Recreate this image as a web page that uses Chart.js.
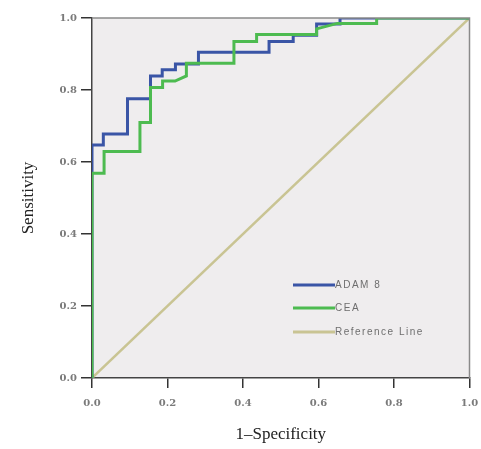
<!DOCTYPE html>
<html>
<head>
<meta charset="utf-8">
<script src="https://cdn.jsdelivr.net/npm/chart.js@4/dist/chart.umd.min.js"></script>
<style>
  body { margin: 0; background: #fff; }
  #roc { display: block; }
</style>
</head>
<body>
<canvas id="roc" width="481" height="449"></canvas>
<script>
// ROC curve data (1 - specificity, sensitivity)
const adamX = [0, 0, 0.03, 0.03, 0.094, 0.094, 0.155, 0.155, 0.186, 0.186, 0.221, 0.221, 0.282, 0.282, 0.469, 0.469, 0.533, 0.533, 0.595, 0.595, 0.657, 0.657, 1.0];
const adamY = [0, 0.647, 0.647, 0.678, 0.678, 0.776, 0.776, 0.839, 0.839, 0.856, 0.856, 0.872, 0.872, 0.905, 0.905, 0.935, 0.935, 0.952, 0.952, 0.983, 0.983, 1.0, 1.0];

const ceaX = [0, 0, 0.032, 0.032, 0.127, 0.127, 0.155, 0.155, 0.187, 0.187, 0.22, 0.25, 0.25, 0.376, 0.376, 0.436, 0.436, 0.595, 0.595, 0.65, 0.754, 0.754, 1.0];
const ceaY = [0, 0.569, 0.569, 0.629, 0.629, 0.71, 0.71, 0.807, 0.807, 0.825, 0.825, 0.839, 0.874, 0.874, 0.935, 0.935, 0.954, 0.954, 0.97, 0.985, 0.985, 1.0, 1.0];

const refX = [0, 1];
const refY = [0, 1];

const seriesNames = ["ADAM 8", "CEA", "Reference Line"];
const xTicks = [0, 0.2, 0.4, 0.6, 0.8, 1.0];
const yTicks = [0, 0.2, 0.4, 0.6, 0.8, 1.0];

function toPoints(xs, ys) {
    return xs.map((x, i) => ({ x: x, y: ys[i] }));
}

// plot background + top/right frame
const fondo = {
    id: "fondo",
    beforeDraw(chart) {
        const { ctx, chartArea: a } = chart;
        ctx.save();
        ctx.fillStyle = "#efedee";
        ctx.fillRect(a.left, a.top, a.right - a.left, a.bottom - a.top);
        ctx.restore();
    },
    afterDraw(chart) {
        const { ctx, chartArea: a } = chart;
        ctx.save();
        ctx.strokeStyle = "#8a8a8a";
        ctx.lineWidth = 1.5;
        ctx.beginPath();
        ctx.moveTo(a.left, a.top);
        ctx.lineTo(a.right, a.top);
        ctx.lineTo(a.right, a.bottom);
        ctx.stroke();
        ctx.restore();
    }
};

// legend drawn inside the plot like the SPSS output
const leyenda = {
    id: "leyenda",
    afterDatasetsDraw(chart) {
        const { ctx } = chart;
        const x0 = 293, x1 = 335;
        const ys = [285, 308, 332];
        ctx.save();
        ctx.font = "10px 'Liberation Sans'";
        ctx.letterSpacing = "1.5px";
        ctx.textBaseline = "middle";
        ctx.fillStyle = "#6e6e6e";
        seriesNames.forEach((name, i) => {
            const ds = chart.data.datasets.find(d => d.label === name);
            ctx.strokeStyle = ds.borderColor;
            ctx.lineWidth = 3;
            ctx.beginPath();
            ctx.moveTo(x0, ys[i]);
            ctx.lineTo(x1, ys[i]);
            ctx.stroke();
            ctx.fillText(name, x1, ys[i]);
        });
        ctx.restore();
    }
};

const ctx = document.getElementById("roc").getContext("2d");
new Chart(ctx, {
    type: "line",
    data: {
        datasets: [
            { label: seriesNames[0], data: toPoints(adamX, adamY), borderColor: "#3a55a6", borderWidth: 3, order: 1 },
            { label: seriesNames[1], data: toPoints(ceaX, ceaY), borderColor: "#4dbb50", borderWidth: 3, order: 0 },
            { label: seriesNames[2], data: toPoints(refX, refY), borderColor: "#c9c493", borderWidth: 2.5, order: 2 }
        ]
    },
    options: {
        responsive: false,
        animation: false,
        elements: { point: { radius: 0 }, line: { tension: 0, fill: false, borderCapStyle: "butt" } },
        layout: { padding: { top: 18, right: 11.5, left: 0, bottom: 0 } },
        plugins: { legend: { display: false }, tooltip: { enabled: false } },
        scales: {
            x: {
                type: "linear",
                min: 0, max: 1,
                afterFit(s) { s.height = 71; s.paddingRight = 0; s.paddingLeft = 0; },
                afterBuildTicks(s) { s.ticks = xTicks.map(v => ({ value: v })); },
                ticks: {
                    color: "#7a7a7a",
                    font: { family: "'DejaVu Serif'", size: 10, weight: "bold" },
                    padding: 9,
                    maxRotation: 0,
                    callback: v => v.toFixed(1)
                },
                grid: { drawOnChartArea: false, drawTicks: true, tickLength: 10, color: "#333", lineWidth: 1.5 },
                border: { display: true, color: "#444", width: 1.5 },
                title: { display: true, text: "1–Specificity", color: "#222", font: { family: "'Liberation Serif'", size: 17 }, padding: { top: 9 } }
            },
            y: {
                type: "linear",
                min: 0, max: 1,
                afterFit(s) { s.width = 92; },
                afterBuildTicks(s) { s.ticks = yTicks.map(v => ({ value: v })); },
                ticks: {
                    color: "#7a7a7a",
                    font: { family: "'DejaVu Serif'", size: 10, weight: "bold" },
                    padding: 4,
                    callback: v => v.toFixed(1)
                },
                grid: { drawOnChartArea: false, drawTicks: true, tickLength: 11, color: "#333", lineWidth: 1.5 },
                border: { display: true, color: "#444", width: 1.5 },
                title: { display: true, text: "Sensitivity", color: "#222", font: { family: "'Liberation Serif'", size: 17 }, padding: { top: 18, bottom: 0 } }
            }
        }
    },
    plugins: [fondo, leyenda]
});
</script>
</body>
</html>
